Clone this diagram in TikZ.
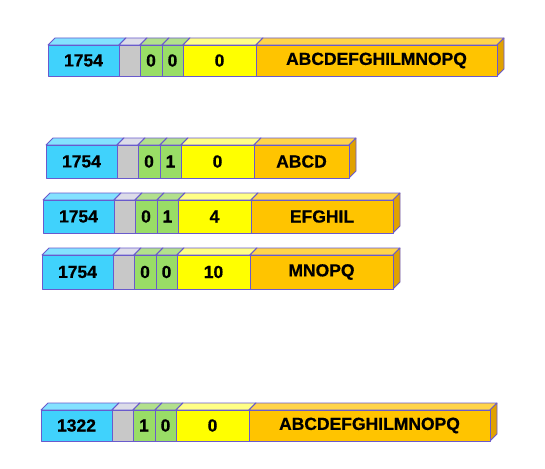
\documentclass[tikz,border=0pt]{standalone}
\usepackage{fontspec}
\usepackage{xcolor}
\newfontfamily\fieldfont{Liberation Sans Bold}[FakeBold=0.6]
\definecolor{boxline}{HTML}{6A5ACD}
\definecolor{hdrcyan}{HTML}{40D2FC}
\definecolor{hdrcyantop}{HTML}{84E2FF}
\definecolor{hdrcyanside}{HTML}{22A8D8}
\definecolor{hdrgray}{HTML}{C8C8C8}
\definecolor{hdrgraytop}{HTML}{DCDCE8}
\definecolor{hdrgrayside}{HTML}{A8A8B0}
\definecolor{hdrgreen}{HTML}{99DD66}
\definecolor{hdrgreentop}{HTML}{B2E08C}
\definecolor{hdrgreenside}{HTML}{78B848}
\definecolor{hdryellow}{HTML}{FFFF00}
\definecolor{hdryellowtop}{HTML}{FFFF86}
\definecolor{hdryellowside}{HTML}{D8D800}
\definecolor{hdrorange}{HTML}{FFC400}
\definecolor{hdrorangetop}{HTML}{FFD44A}
\definecolor{hdrorangeside}{HTML}{E0A200}
\tikzset{
  boxface/.style={draw=boxline,line width=0.8pt,line join=round},
}
\def\depth{7}
% name, x, y, width, height, colour, text
\newcommand\fieldbox[7]{%
  \filldraw[boxface,fill=#6top] (#2,#3) -- ++(\depth,-\depth) -- ++(#4,0) -- ++(-\depth,\depth) -- cycle;
  \filldraw[boxface,fill=#6side] (#2+#4,#3) -- ++(\depth,-\depth) -- ++(0,#5) -- ++(-\depth,\depth) -- cycle;
  \filldraw[boxface,fill=#6] (#2,#3) rectangle node (#1) {#7} ++(#4,#5);
}

\begin{document}
\begin{tikzpicture}[x=1pt,y=-1pt,font=\fieldfont\fontsize{17.5}{17.5}\selectfont]
  \useasboundingbox (0,0) rectangle (545,468);
  \foreach \r/\x/\y/\h/\id/\fa/\fb/\off/\len/\pay in {
      a/48/45/31/1754/0/0/0/241/ABCDEFGHILMNOPQ,
      b/46/145/33/1754/0/1/0/95/ABCD,
      c/43/200/33/1754/0/1/4/142/EFGHIL,
      d/42/255/34/1754/0/0/10/143/MNOPQ,
      e/41/410/31/1322/1/0/0/241/ABCDEFGHILMNOPQ}
  {
    \fieldbox{\r-id}{\x}{\y}{71}{\h}{hdrcyan}{\id}
    \fieldbox{\r-gap}{\x+71}{\y}{21}{\h}{hdrgray}{}
    \fieldbox{\r-fa}{\x+92}{\y}{22}{\h}{hdrgreen}{\fa}
    \fieldbox{\r-fb}{\x+114}{\y}{21}{\h}{hdrgreen}{\fb}
    \fieldbox{\r-off}{\x+135}{\y}{73}{\h}{hdryellow}{\off}
    \fieldbox{\r-pay}{\x+208}{\y}{\len}{\h}{hdrorange}{\pay}
  }
\end{tikzpicture}
\end{document}
